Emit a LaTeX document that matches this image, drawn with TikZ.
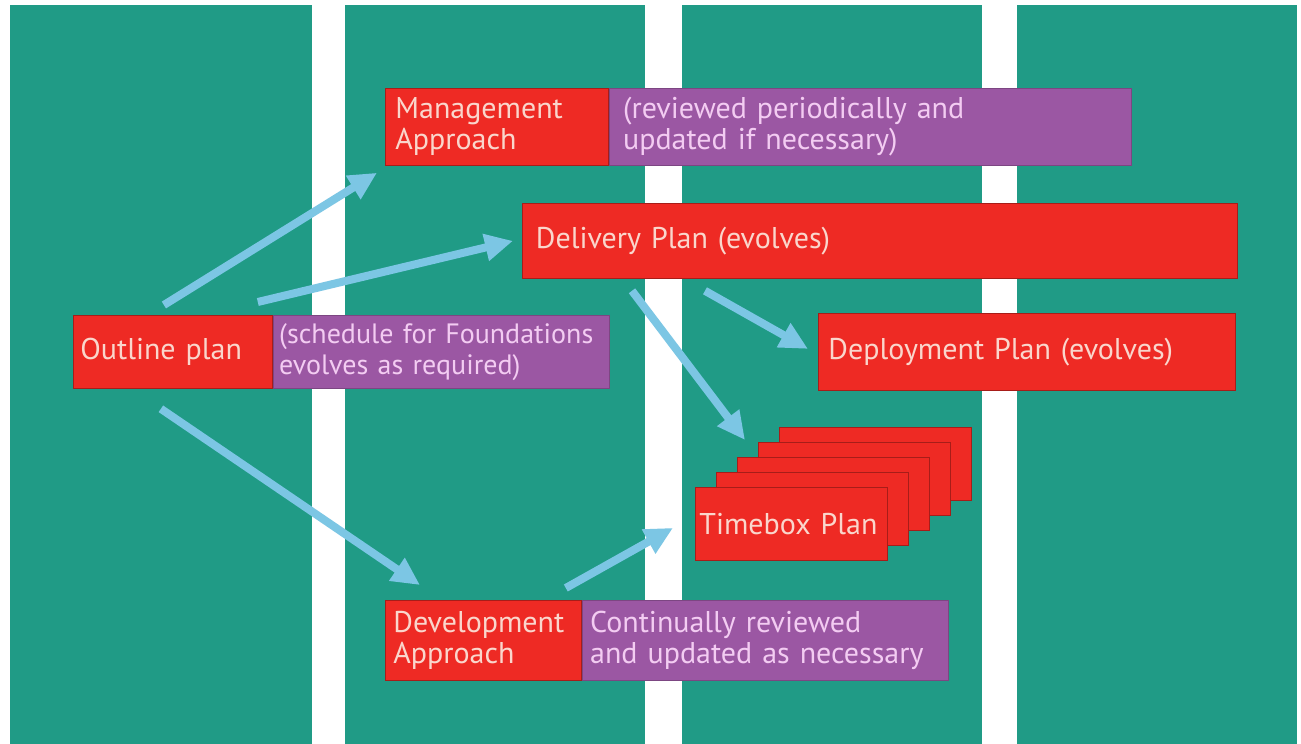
\documentclass[tikz,border=0pt]{standalone}
\usepackage{fontspec}
\setmainfont{PT Sans}
\usepackage{tikz}
\usetikzlibrary{arrows.meta,calc}

\definecolor{lane}{HTML}{209B86}
\definecolor{planred}{HTML}{EE2A24}
\definecolor{notepurple}{HTML}{9B57A3}
\definecolor{flowblue}{HTML}{7CC6E4}
\definecolor{redtext}{HTML}{FAD6CC}
\definecolor{notetext}{HTML}{F3CCF2}

\tikzset{
  plan/.style={rectangle,anchor=north west,fill=planred,draw=planred!70!black,
    text=redtext,align=left,inner xsep=5pt,inner ysep=0pt},
  note/.style={plan,fill=notepurple,draw=notepurple!80!black,text=notetext}
}

\begin{document}
\begin{tikzpicture}[x=0.5pt,y=-0.5pt,font=\fontsize{15}{15.5}\selectfont]
  \useasboundingbox[fill=white] (0,0) rectangle (1301,744);
  % lanes
  \fill[lane] (10,5) rectangle (312,744);
  \fill[lane] (345,5) rectangle (645,744);
  \fill[lane] (682,5) rectangle (982,744);
  \fill[lane] (1017,5) rectangle (1297,744);

	\begin{scope}[every node/.style={plan}]
    \node (mgmt) [minimum width=111.5pt,text width=101.5pt,minimum height=38.5pt] at (385,88) {Management\\Approach};
    \node (delivery) [minimum width=357.5pt,text width=344pt,minimum height=37.5pt,inner xsep=6.5pt] at (522,203) {Delivery Plan (evolves)};
    \node (deploy) [minimum width=208.5pt,text width=198.5pt,minimum height=38.5pt] at (818,313) {Deployment Plan (evolves)};
    \node (outline) [minimum width=99.5pt,text width=92.5pt,minimum height=36.5pt,inner xsep=3.5pt] at (73,315) {Outline plan};
    \node (devel) [minimum width=98pt,text width=90pt,minimum height=40pt,inner xsep=4pt] at (385,600) {Development\\Approach};
    % stacked timeboxes
    \foreach \i in {4,...,1}
      \node (tb\i) [minimum width=96pt,minimum height=36.5pt] at (695+21*\i,487-15*\i) {};
    \node (timebox) [minimum width=96pt,text width=92pt,minimum height=36.5pt,inner xsep=2pt] at (695,487) {Timebox Plan};
	\end{scope}

	\begin{scope}[every node/.style={note}]
    \node (review) [minimum width=261pt,text width=247pt,minimum height=38.5pt,inner xsep=7pt] at (mgmt.north east) {(reviewed periodically and\\updated if necessary)};
    \node (schedule) [minimum width=168pt,text width=162pt,minimum height=36.5pt,inner xsep=3pt,font=\fontsize{14}{15.5}\selectfont] at (outline.north east) {(schedule for Foundations\\evolves as required)};
    \node (continual) [minimum width=183pt,text width=175pt,minimum height=40pt,inner xsep=4pt] at (devel.north east) {Continually reviewed\\and updated as necessary};
	\end{scope}

	\begin{scope}[>={Triangle[width=13pt,length=14pt]},
              every edge/.style={draw=flowblue,line width=4pt}]
    \path [->] ($(outline.north)+(-9,-10)$) edge ($(mgmt.south west)+(-8,7)$);
    \path [->] ($(outline.north east)+(-15,-13)$) edge ($(delivery.west)+(-9,0)$);
    \path [->] ($(outline.south)+(-12,20)$) edge ($(devel.north west)+(35,-15)$);
    \path [->] ($(devel.north east)+(-16,-12)$) edge ($(timebox.west)+(-22,4)$);
    \path [->] ($(delivery.south west)+(110,12)$) edge ($(timebox.north west)+(50,-47)$);
    \path [->] ($(delivery.south west)+(183,12)$) edge ($(deploy.west)+(-10,-3)$);
\end{scope}
\end{tikzpicture}
\end{document}
